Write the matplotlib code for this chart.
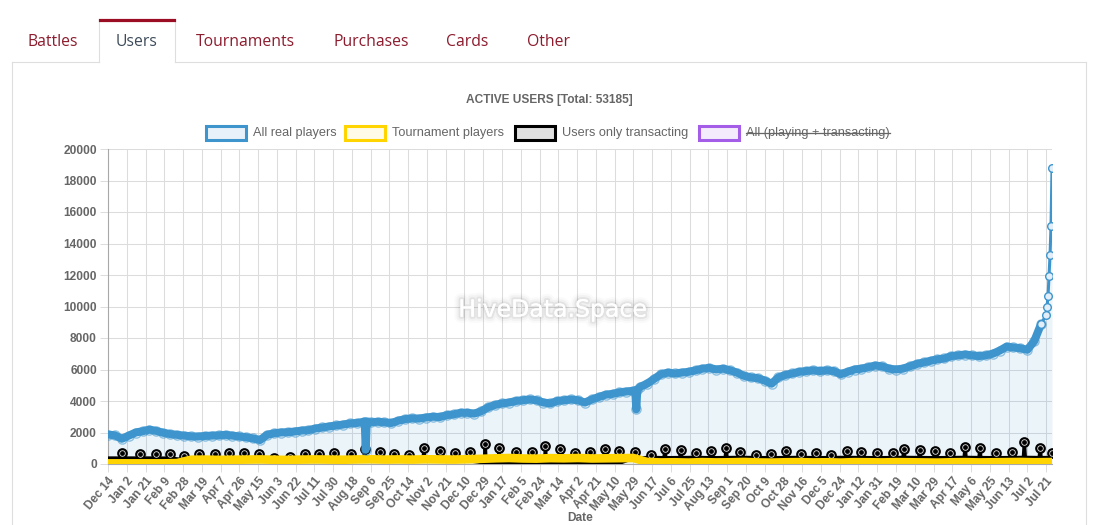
import numpy as np
import matplotlib
matplotlib.use("Agg")
import matplotlib.pyplot as plt
from matplotlib.lines import Line2D
from matplotlib.patches import Rectangle
import matplotlib.patheffects as pe

W, H = 1099, 525

# ---------------- data ----------------
title = "ACTIVE USERS [Total: 53185]"
tabs = ["Battles", "Users", "Tournaments", "Purchases", "Cards", "Other"]
legend_labels = ["All real players", "Tournament players",
                 "Users only transacting", "All (playing + transacting)"]
x_title = "Date"
tick_labels = ["Dec 14", "Jan 2", "Jan 21", "Feb 9", "Feb 28", "Mar 19", "Apr 7", "Apr 26",
               "May 15", "Jun 3", "Jun 22", "Jul 11", "Jul 30", "Aug 18", "Sep 6", "Sep 25",
               "Oct 14", "Nov 2", "Nov 21", "Dec 10", "Dec 29", "Jan 17", "Feb 5", "Feb 24",
               "Mar 14", "Apr 2", "Apr 21", "May 10", "May 29", "Jun 17", "Jul 6", "Jul 25",
               "Aug 13", "Sep 1", "Sep 20", "Oct 9", "Oct 28", "Nov 16", "Dec 5", "Dec 24",
               "Jan 12", "Jan 31", "Feb 19", "Mar 10", "Mar 29", "Apr 17", "May 6", "May 25",
               "Jun 13", "Jul 2", "Jul 21"]
n_days = 957  # daily categories from Dec 14 2018 to Jul 27 2021

# All real players: weekly readings (day 0, 7, 14, ...)
blue_weekly = [1870, 1820, 1600, 1800, 2000, 2080, 2180, 2100, 1980, 1900,
               1850, 1800, 1760, 1740, 1780, 1800, 1820, 1850, 1800, 1750,
               1700, 1620, 1520, 1850, 1950, 2000, 2020, 2060, 2120, 2150,
               2250, 2320, 2380, 2450, 2500, 2580, 2600, 2680, 2650, 2680,
               2650, 2600, 2750, 2850, 2900, 2880, 2950, 3000, 2980, 3100,
               3150, 3250, 3250, 3200, 3350, 3600, 3750, 3850, 3900, 4000,
               4050, 4100, 4050, 3900, 3850, 4000, 4050, 4100, 4050, 3900,
               4100, 4250, 4400, 4450, 4550, 4600, 4650, 4900, 5100, 5400,
               5700, 5800, 5750, 5800, 5850, 5950, 6050, 6100, 6000, 6050,
               5950, 5800, 5600, 5500, 5450, 5300, 5100, 5500, 5650, 5750,
               5850, 5900, 5950, 5900, 5950, 5900, 5700, 5850, 6000, 6050,
               6150, 6250, 6200, 6050, 6000, 6050, 6200, 6350, 6450, 6550,
               6650, 6700, 6850, 6900, 6950, 6900, 6850, 6900, 7000, 7200,
               7450, 7400, 7350, 7250, 7800, 8900]
blue_extra_days = [260, 261, 262, 534, 535, 536, 950, 951, 952, 953, 954, 955, 956]
blue_extra_vals = [2680, 900, 2660, 4650, 3470, 4700, 9460, 9990, 10690, 11950, 13270, 15100, 18790]

# Tournament players: readings every 14 days
yellow_biweekly = [40, 40, 40, 40, 40, 60,
                   270, 280, 260, 270, 280, 290, 270, 260, 280, 290, 280, 270, 290, 300,
                   280, 290, 280, 300, 290, 280, 300,
                   330, 360, 380, 350, 340, 370, 360, 380, 350, 360, 370, 380,
                   130, 100, 110, 90, 120, 100, 110, 130, 100, 90, 110, 120, 100, 110,
                   90, 120, 110, 100, 120, 110, 100, 90, 110, 120, 100, 110, 120, 130,
                   110, 120]

# Users only transacting: baseline around each semi-monthly spike
black_start = 380
spike_days = [14, 32, 49, 63, 77, 92, 108, 123, 138, 153,
              168, 184, 199, 214, 229, 246, 260, 275, 290, 305,
              320, 336, 351, 367, 382, 396, 413, 429, 443, 458,
              473, 488, 503, 518, 534, 550, 564, 580, 595, 611,
              626, 640, 656, 671, 687, 702, 717, 732, 748, 763,
              779, 795, 806, 822, 838, 853, 868, 883, 899, 915,
              928, 944, 956]
spike_vals = [680, 615, 615, 635, 530, 635, 655, 680, 720, 635,
              400, 465, 635, 635, 680, 660, 950, 780, 635, 590,
              1035, 825, 680, 740, 1270, 995, 780, 740, 1140, 930,
              680, 760, 950, 845, 780, 570, 930, 890, 680, 825,
              995, 760, 570, 635, 825, 655, 720, 550, 845, 780,
              700, 680, 930, 890, 845, 680, 1100, 995, 720, 780,
              1415, 1035, 680]
black_base = [380, 380, 380, 370,
              280, 280, 280, 280, 280, 280, 280, 280, 280, 280,
              280, 280, 280, 280, 280, 280, 280, 280, 280,
              180,
              70, 70, 70, 70, 70, 70, 70, 70, 70, 70,
              380, 420, 400, 410, 420, 400, 410, 420, 410, 400,
              410, 420, 400, 410, 420, 410, 400, 410, 420, 410,
              400, 410, 420, 410, 400, 410, 420, 410, 410]

# ---------------- build series ----------------
bd = list(range(0, 7 * len(blue_weekly), 7)) + blue_extra_days
bv = blue_weekly + blue_extra_vals
order = np.argsort(bd, kind="stable")
blue_x = np.array(bd)[order]
blue_y = np.array(bv)[order]

yel_x = np.arange(len(yellow_biweekly)) * 14
yel_y = np.array(yellow_biweekly)

kx, ky = [0], [black_start]
for d, s, b in zip(spike_days, spike_vals, black_base):
    kx += [d - 1, d]
    ky += [b, s]
    if d + 1 < n_days:
        kx.append(d + 1)
        ky.append(b)
kx = np.array(kx)
ky = np.array(ky)

# ---------------- figure ----------------
fig = plt.figure(figsize=(W / 100, H / 100), dpi=100)
fig.patch.set_facecolor("white")


def fx(px):
    return px / W


def fy(py):
    return 1 - py / H


ax = fig.add_axes([fx(108), fy(464), (1052 - 108) / W, (464 - 149) / H])

BLUE = "#3e95cd"
YELLOW = "#ffd400"
GRAY = "#666666"

ax.fill_between(blue_x, blue_y, 0, color=BLUE, alpha=0.1, lw=0, zorder=1)
ax.plot(kx, ky, color="black", lw=2.4, zorder=3, solid_joinstyle="round")
ax.plot(spike_days, spike_vals, ls="none", marker="o", ms=6.2, mfc="#d8d8d8",
        mec="black", mew=1.5, zorder=3.2)
ax.plot(spike_days, spike_vals, ls="none", marker="o", ms=2.4, mfc="black",
        mec="black", zorder=3.3)
ax.plot(yel_x, yel_y, color=YELLOW, lw=6.2, zorder=4, solid_joinstyle="round")

# dense (daily-jitter) part drawn as a thick band, final steep rise as a thin line
tail = blue_x >= 945
body = blue_x <= 945
ax.plot(blue_x[body], blue_y[body], color=BLUE, lw=5.8, zorder=5,
        solid_joinstyle="round", solid_capstyle="round")
ax.plot(blue_x[body], blue_y[body], ls="none", marker="o", ms=6.6, mfc="none", mec=BLUE,
        mew=1.0, alpha=0.55, zorder=5.1)
ax.plot(blue_x[tail], blue_y[tail], color=BLUE, lw=2.2, zorder=5.2,
        marker="o", ms=5.5, mfc="#e3eef8", mec=BLUE, mew=1.0)

ax.set_xlim(0, n_days - 1)
ax.set_ylim(0, 20000)
ax.set_yticks(np.arange(0, 20001, 2000))
ax.set_yticklabels([str(v) for v in range(0, 20001, 2000)], fontweight="bold",
                   fontsize=8.6, color=GRAY, family="Liberation Sans")
ax.set_xticks(np.arange(0, 19 * len(tick_labels), 19))
ax.set_xticklabels(tick_labels, rotation=50, ha="right", rotation_mode="anchor",
                   fontweight="bold", fontsize=8.6, color=GRAY, family="Liberation Sans")
ax.tick_params(axis="both", length=6, width=0.7, color="#dcdcdc", pad=2)
ax.grid(True, color="#dcdcdc", lw=0.75, zorder=0)
ax.set_axisbelow(True)
for s in ["top", "right"]:
    ax.spines[s].set_visible(False)
ax.spines["left"].set_color("#a8a8a8")
ax.spines["left"].set_linewidth(0.8)
ax.spines["bottom"].set_color("#a8a8a8")
ax.spines["bottom"].set_linewidth(0.8)

# watermark
ax.text(0.471, 0.49, "HiveData.Space", transform=ax.transAxes, ha="center", va="center",
        fontsize=17, color="white", family="DejaVu Sans", zorder=10,
        path_effects=[pe.withStroke(linewidth=9, foreground="black", alpha=0.02),
                      pe.withStroke(linewidth=6, foreground="black", alpha=0.03),
                      pe.withStroke(linewidth=3, foreground="black", alpha=0.06),
                      pe.Normal()])

# title and axis title
fig.text(fx(549), fy(100), title, ha="center", va="center", fontsize=8.6,
         fontweight="bold", color=GRAY, family="Liberation Sans")
fig.text(fx(580), fy(518), x_title, ha="center", va="center", fontsize=8.6,
         fontweight="bold", color=GRAY, family="Liberation Sans")

# legend
leg_items = [
    (206, legend_labels[0], BLUE, "#e8f1f9"),
    (345, legend_labels[1], YELLOW, "#fffbe6"),
    (515, legend_labels[2], "black", "#e0e0e0"),
    (699, legend_labels[3], "#a35de6", "#f4ecfd"),
]
fig.canvas.draw()
renderer = fig.canvas.get_renderer()
for i, (x0, lab, ec, fc) in enumerate(leg_items):
    fig.add_artist(Rectangle((fx(x0), fy(140)), 40 / W, 14 / H, transform=fig.transFigure,
                             facecolor=fc, edgecolor=ec, lw=2.2))
    t = fig.text(fx(x0 + 47), fy(133), lab, ha="left", va="center", fontsize=9.2,
                 color=GRAY, family="Liberation Sans")
    if i == 3:
        bb = t.get_window_extent(renderer=renderer)
        fig.add_artist(Line2D([bb.x0 / W, bb.x1 / W], [fy(133), fy(133)],
                              transform=fig.transFigure, color=GRAY, lw=0.9))

# tabs
RED = "#8c1c2e"
tab_centers = [53, 137, 245, 371, 467, 548]
for name, cx in zip(tabs, tab_centers):
    col = "#3d4b5a" if name == "Users" else RED
    fig.text(fx(cx), fy(42), name, ha="center", va="center", fontsize=11.3,
             color=col, family="Open Sans")

LINE = "#dedede"


def hline(x0, x1, y, c=LINE, lw=0.8):
    fig.add_artist(Line2D([fx(x0), fx(x1)], [fy(y), fy(y)], transform=fig.transFigure,
                          color=c, lw=lw))


def vline(x, y0, y1, c=LINE, lw=0.8):
    fig.add_artist(Line2D([fx(x), fx(x)], [fy(y0), fy(y1)], transform=fig.transFigure,
                          color=c, lw=lw))


hline(12, 99, 62)
hline(175, 1086, 62)
vline(12, 62, 525)
vline(1086, 62, 525)
vline(99, 20, 62)
vline(175, 20, 62)
hline(100, 174, 19.5, c="#9b0d23", lw=2.3)

fig.savefig("out.png", dpi=100, facecolor="white")
